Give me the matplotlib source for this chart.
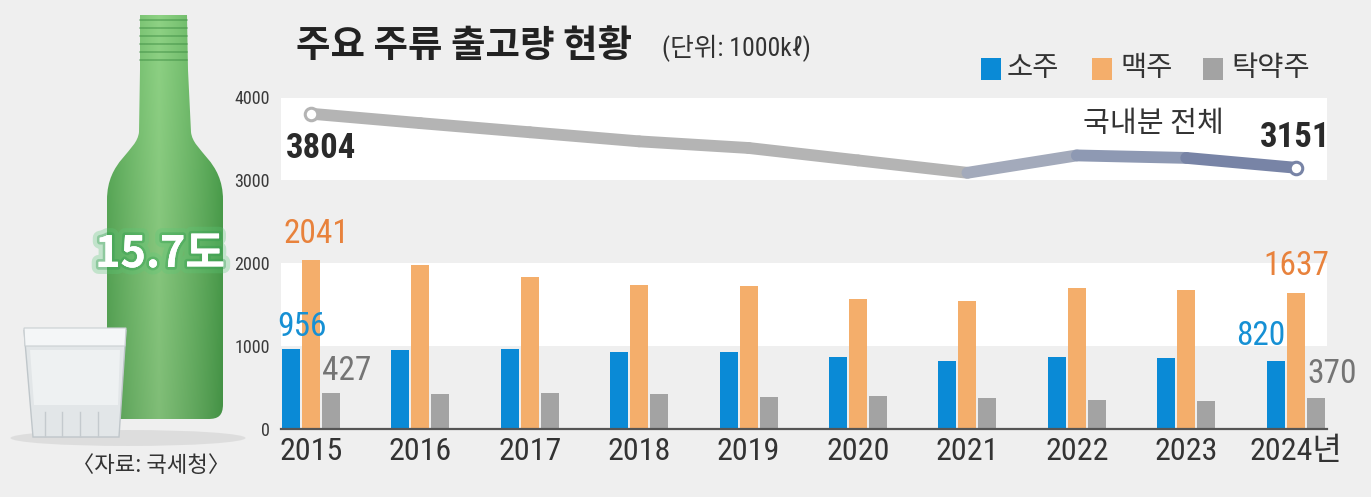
import numpy as np
import matplotlib
matplotlib.use("Agg")
import matplotlib.pyplot as plt
import matplotlib.patheffects as pe
from matplotlib import font_manager
from matplotlib.collections import LineCollection
from matplotlib.patches import Rectangle, Polygon, PathPatch, Ellipse
from matplotlib.path import Path

# ---- data (단위: 1000kl) ----
years = ["2015", "2016", "2017", "2018", "2019", "2020", "2021", "2022", "2023", "2024년"]
soju = [956, 944, 960, 924, 924, 868, 820, 868, 848, 820]
beer = [2041, 1981, 1836, 1740, 1728, 1569, 1537, 1693, 1673, 1637]
takju = [427, 415, 435, 415, 379, 394, 370, 350, 334, 370]
total = [3804, 3690, 3580, 3470, 3390, 3240, 3090, 3300, 3270, 3151]
series_names = ["소주", "맥주", "탁약주"]
yticks = [0, 1000, 2000, 3000, 4000]

# ---- style ----
BG = "#efefef"
C_SOJU, C_BEER, C_TAKJU = "#0a8ad6", "#f4ae6b", "#a3a3a3"
T_SOJU, T_BEER, T_TAKJU = "#1690d4", "#e8823c", "#757575"
DARK = "#2a2a2a"
KR = "Noto Sans CJK KR"


def pick_num_font():
    # narrow digits look closest to the original; use what is installed
    fl = font_manager.fontManager.ttflist
    names = {f.name for f in fl}
    for n in ("Liberation Sans Narrow", "Roboto Condensed", "Open Sans Condensed", "Arial Narrow"):
        if n in names:
            return n, "normal", True
    for n in ("Roboto", "Open Sans", "Noto Sans", "DejaVu Sans"):
        if any(f.name == n and str(f.stretch) in ("condensed", "extra-condensed", "semi-condensed")
               for f in fl):
            return n, "condensed", True
    return "Liberation Sans", "normal", False


NUM, STRETCH, NARROW = pick_num_font()
MIX = [NUM, KR, "DejaVu Sans"]
K = 1.0 if NARROW else 0.9   # shrink wide digits a little


def num_kw(size, **kw):
    return dict(fontsize=size * K, family=NUM, fontstretch=STRETCH, **kw)


W, H = 1371, 497
fig = plt.figure(figsize=(W / 100, H / 100), dpi=100, facecolor=BG)

# overlay in pixel coordinates (y down) for title, legend, illustration
ov = fig.add_axes([0, 0, 1, 1], zorder=0)
ov.set_xlim(0, W)
ov.set_ylim(H, 0)
ov.axis("off")


def draw_bottle(a):
    # shadow under bottle and glass
    a.add_patch(Ellipse((128, 438), 235, 16, fc="#dcdcdc", ec="none", alpha=0.9))

    M, L, C, Z = Path.MOVETO, Path.LINETO, Path.CURVE4, Path.CLOSEPOLY
    verts = [(140, 15), (187, 15), (188, 70), (191, 132),
             (193, 152), (223, 160), (223, 200),
             (223, 404),
             (223, 416), (218, 419), (208, 419),
             (122, 419),
             (112, 419), (107, 416), (107, 404),
             (107, 200),
             (107, 160), (137, 152), (139, 132),
             (140, 70), (140, 15)]
    codes = [M, L, L, L, C, C, C, L, C, C, C, L, C, C, C, L, C, C, C, L, Z]
    bottle = PathPatch(Path(verts, codes), fc="none", ec="none")
    a.add_patch(bottle)

    # green glass shading
    nx, ny = 120, 410
    t = np.linspace(0, 1, nx)
    shade = np.clip(1 - np.abs(t - 0.45) / 0.62, 0, 1) ** 0.8
    dark = np.array([0x3b, 0x95, 0x3f]) / 255
    light = np.array([0x8e, 0xd2, 0x84]) / 255
    img = dark + (light - dark) * shade[None, :, None]
    img = np.repeat(img, ny, axis=0)
    v = np.linspace(0, 1, ny)[:, None, None]
    img = np.clip(img * (1 - 0.1 * v), 0, 1)
    im = a.imshow(img, extent=[105, 225, 420, 12], aspect="auto", zorder=2)
    im.set_clip_path(bottle)

    # screw threads on the neck
    for y in (20, 28, 36, 44, 52, 60):
        a.plot([140, 187], [y, y], color="#3a8a40", lw=1.1, alpha=0.55, zorder=3)

    # shot glass in front
    a.add_patch(Polygon([(24, 330), (126, 330), (119, 437), (33, 437)],
                        closed=True, fc="#e2e6e8", ec="#bfc6ca", lw=1, zorder=4))
    a.add_patch(Polygon([(24, 328), (126, 328), (125, 346), (25, 346)],
                        closed=True, fc="#f4f6f7", ec="#c9cfd2", lw=0.8, zorder=5))
    a.add_patch(Polygon([(30, 350), (120, 350), (118, 405), (34, 405)],
                        closed=True, fc="#eef1f2", ec="none", zorder=5))
    for xx in (45, 62, 80, 98):
        a.plot([xx, xx], [412, 436], color="#c4cace", lw=1, zorder=6)

    a.text(160, 254, "15.7도", color="white", fontsize=31, fontweight="bold",
           family=KR, ha="center", va="center", zorder=7,
           path_effects=[pe.withStroke(linewidth=10, foreground="#5cc878", alpha=0.3),
                         pe.withStroke(linewidth=4, foreground="#2f9a4c", alpha=0.35),
                         pe.Normal()])


draw_bottle(ov)

ov.text(151, 465, "〈자료: 국세청〉", fontsize=16, color="#333333", family=KR,
        ha="center", va="center")

# title and unit
ov.text(296, 46, "주요 주류 출고량 현황", fontsize=27, fontweight="bold", family=KR,
        color="#222222", ha="left", va="center")
ov.text(662, 48, "(단위: 1000kℓ)", fontsize=18.5, family=MIX, fontstretch=STRETCH,
        color="#333333", ha="left", va="center")

# legend
for sq_x, tx_x, col, name in zip((981, 1092, 1203), (1007, 1120, 1231),
                                 (C_SOJU, C_BEER, C_TAKJU), series_names):
    ov.add_patch(Rectangle((sq_x, 58), 20, 22, fc=col, ec="none"))
    ov.text(tx_x, 68, name, fontsize=20.5, family=KR, color="#333333",
            ha="left", va="center")

# ---- main chart ----
ax = fig.add_axes([281 / W, (H - 428.5) / H, 1046 / W, 331 / H], zorder=1)
ax.set_facecolor(BG)
x = np.arange(len(years))
ax.set_xlim(-0.274, 9.287)
ax.set_ylim(0, 4000)
ax.axhspan(1000, 2000, color="white", zorder=0, lw=0)
ax.axhspan(3000, 4000, color="white", zorder=0, lw=0)
for s in ax.spines.values():
    s.set_visible(False)

bw, off = 0.1645, 0.183
ax.bar(x - off, soju, bw, color=C_SOJU, zorder=2)
ax.bar(x, beer, bw, color=C_BEER, zorder=2)
ax.bar(x + off, takju, bw, color=C_TAKJU, zorder=2)
ax.axhline(0, color="#555555", lw=1.6, zorder=3, clip_on=False)

# total line with colour shift toward the end
pts = np.column_stack([x, total])
segs = np.stack([pts[:-1], pts[1:]], axis=1)
seg_cols = ["#b4b4b4"] * 6 + ["#a3aabb", "#8e99b3", "#7884a6"]
ax.add_collection(LineCollection(segs, colors=seg_cols, linewidths=8.5,
                                 capstyle="round", joinstyle="round", zorder=4))
ax.plot(x[0], total[0], "o", ms=9, mfc="white", mec="#b4b4b4", mew=2.2, zorder=5)
ax.plot(x[-1], total[-1], "o", ms=9, mfc="white", mec="#7884a6", mew=2.2, zorder=5)

ax.text(x[0] + 0.09, total[0] - 415, f"{total[0]}", fontweight="bold", color=DARK,
        ha="center", va="center", zorder=6, **num_kw(25))
ax.text(x[-1], total[-1] + 370, f"{total[-1]}", fontweight="bold", color=DARK,
        ha="center", va="center", zorder=6, **num_kw(25))
ax.text(7.70, 3680, "국내분 전체", fontsize=21, family=KR, color="#333333",
        ha="center", va="center", zorder=6)

# value labels for first and last year
lab_kw = dict(ha="center", va="center", zorder=6, clip_on=False)
ax.text(x[0] + 0.05, beer[0] + 310, f"{beer[0]}", color=T_BEER, **num_kw(24), **lab_kw)
ax.text(x[0] - 0.08, soju[0] + 270, f"{soju[0]}", color=T_SOJU, **num_kw(24), **lab_kw)
ax.text(x[0] + 0.33, takju[0] + 268, f"{takju[0]}", color=T_TAKJU, **num_kw(24), **lab_kw)
ax.text(x[-1] + 0.01, beer[-1] + 327, f"{beer[-1]}", color=T_BEER, **num_kw(24), **lab_kw)
ax.text(x[-1] - 0.32, soju[-1] + 298, f"{soju[-1]}", color=T_SOJU, **num_kw(24), **lab_kw)
ax.text(x[-1] + 0.33, takju[-1] + 289, f"{takju[-1]}", color=T_TAKJU, **num_kw(24), **lab_kw)

ax.set_yticks(yticks)
ax.set_yticklabels([str(v) for v in yticks])
ax.tick_params(axis="y", length=0, pad=8, labelsize=13 * K, labelcolor="#3a3a3a")
for lab in ax.get_yticklabels():
    lab.set_family(NUM)
    lab.set_fontstretch(STRETCH)
ax.set_xticks(x)
ax.set_xticklabels(years)
ax.tick_params(axis="x", length=0, pad=6, labelsize=23 * K, labelcolor="#333333")
for lab in ax.get_xticklabels():
    lab.set_family(MIX)
    lab.set_fontstretch(STRETCH)

fig.savefig("out.png", dpi=100, facecolor=BG)
